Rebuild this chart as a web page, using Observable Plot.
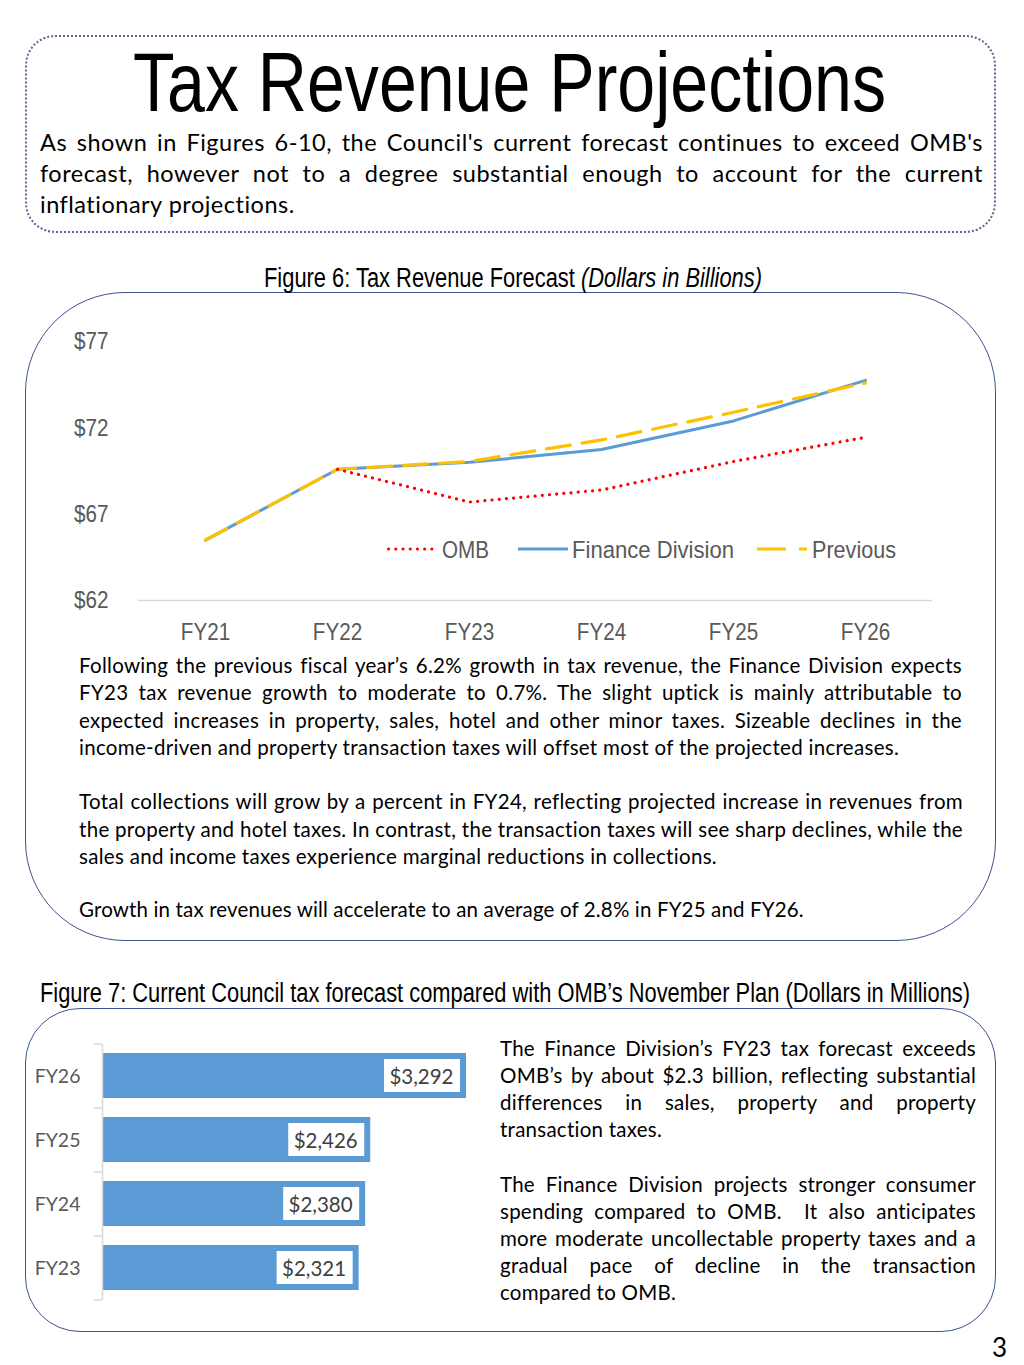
<!DOCTYPE html>
<html>
<head>
<meta charset="utf-8">
<script src="https://cdn.jsdelivr.net/npm/d3@7"></script>
<script src="https://cdn.jsdelivr.net/npm/@observablehq/plot@0.6"></script>
<style>
  html, body { margin: 0; padding: 0; background: #fff; }
  #page { position: relative; width: 1024px; height: 1365px; overflow: hidden; background: #fff; }
  .box { position: absolute; box-sizing: border-box; }
  .ln { position: absolute; white-space: pre; line-height: 1; transform-origin: 0 0; }
  .chart { position: absolute; }
  .chart svg { overflow: visible; }
</style>
</head>
<body>
<div id="page">
  <div class="box" style="left:25px;top:35px;width:971px;height:198px;border:2px dotted #5b6b90;border-radius:30px;"></div>
  <div class="box" style="left:25px;top:292px;width:971px;height:649px;border:1.6px solid #3c5192;border-radius:100px;"></div>
  <div class="box" style="left:25px;top:1008px;width:971px;height:324px;border:1.6px solid #3c5192;border-radius:55px;"></div>
</div>
<script>
// ---------- Data ----------
const years = ["FY21", "FY22", "FY23", "FY24", "FY25", "FY26"];
const ombValues = [null, 69.6, 67.7, 68.4, 70.05, 71.45];
const financeValues = [65.5, 69.6, 70.0, 70.75, 72.4, 74.75];
const previousValues = [65.5, 69.6, 70.05, 71.3, 72.9, 74.6];
const yTickValues = [62, 67, 72, 77];

const barYears = ["FY26", "FY25", "FY24", "FY23"];
const barValues = [3292, 2426, 2380, 2321];

const seriesNames = ["OMB", "Finance Division", "Previous"];
const seriesColors = ["#ff0000", "#5b9bd5", "#ffc000"];

// ---------- Text ----------
const titleText = "Tax Revenue Projections";
const introLines = [
  "As shown in Figures 6-10, the Council's current forecast continues to exceed OMB's",
  "forecast, however not to a degree substantial enough to account for the current",
  "inflationary projections."
];
const fig6Caption = ["Figure 6: Tax Revenue Forecast ", "(Dollars in Billions)"];
const para1Lines = [
  "Following the previous fiscal year\u2019s 6.2% growth in tax revenue, the Finance Division expects",
  "FY23 tax revenue growth to moderate to 0.7%. The slight uptick is mainly attributable to",
  "expected increases in property, sales, hotel and other minor taxes. Sizeable declines in the",
  "income-driven and property transaction taxes will offset most of the projected increases."
];
const para2Lines = [
  "Total collections will grow by a percent in FY24, reflecting projected increase in revenues from",
  "the property and hotel taxes. In contrast, the transaction taxes will see sharp declines, while the",
  "sales and income taxes experience marginal reductions in collections."
];
const para3Lines = [
  "Growth in tax revenues will accelerate to an average of 2.8% in FY25 and FY26."
];
const fig7Caption = "Figure 7: Current Council tax forecast compared with OMB\u2019s November Plan (Dollars in Millions)";
const rightLines1 = [
  "The Finance Division\u2019s FY23 tax forecast exceeds",
  "OMB\u2019s by about $2.3 billion, reflecting substantial",
  "differences in sales, property and property",
  "transaction taxes."
];
const rightLines2 = [
  "The Finance Division projects stronger consumer",
  "spending compared to OMB.  It also anticipates",
  "more moderate uncollectable property taxes and a",
  "gradual pace of decline in the transaction",
  "compared to OMB."
];

const NARROW = '"Liberation Sans Narrow", "Arial Narrow", "Liberation Sans", Arial, sans-serif';
const BODY = 'Lato, Carlito, Calibri, "Open Sans", sans-serif';

const page = document.getElementById("page");

// ---------- Text helper: place a line by its baseline ----------
function addLine(text, o) {
  const d = document.createElement("div");
  d.className = "ln";
  d.style.fontFamily = o.family || BODY;
  d.style.fontSize = o.size + "px";
  d.style.color = o.color || "#000";
  if (o.ls) d.style.letterSpacing = o.ls + "px";
  const parts = Array.isArray(text) ? text : [text];
  const spans = parts.map((t, i) => {
    const s = document.createElement("span");
    s.textContent = t;
    if (o.italicPart && i === 1) s.style.fontStyle = "italic";
    d.appendChild(s);
    return s;
  });
  const probe = document.createElement("span");
  probe.style.display = "inline-block";
  probe.style.width = "0px";
  probe.style.height = "0px";
  probe.style.verticalAlign = "baseline";
  d.appendChild(probe);
  page.appendChild(d);
  const baseOff = probe.offsetTop;
  const w = spans.reduce((a, s) => a + s.getBoundingClientRect().width, 0);
  d.style.top = (o.base - baseOff) + "px";
  let left = o.x;
  if (o.justify) {
    const n = (parts.join("").match(/ /g) || []).length;
    const extra = (o.w - w) / n;
    if (extra >= -1.5) {
      d.style.wordSpacing = extra + "px";
    } else {
      d.style.transform = `scaleX(${o.w / w})`;
    }
  } else if (o.fit) {
    d.style.transform = `scaleX(${o.w / w})`;
  } else if (o.maxW && w > o.maxW) {
    d.style.transform = `scaleX(${o.maxW / w})`;
  }
  if (o.center) left = o.center - w / 2;
  d.style.left = left + "px";
  return d;
}

// Title + intro
addLine(titleText, {x: 133, base: 110.5, size: 84, family: NARROW, fit: true, w: 753});
introLines.forEach((t, i) => addLine(t, {x: 40, base: 151 + 31 * i, size: 23.5, ls: 0.5, justify: i < introLines.length - 1, w: 943, maxW: 943}));

// Figure 6 caption
addLine(fig6Caption, {x: 264, base: 287, size: 27, family: NARROW, fit: true, w: 498, italicPart: true});

// Middle paragraphs
const bodyOpts = {size: 20.5, ls: 0.3};
const p1Base = [673, 700, 727.5, 755];
para1Lines.forEach((t, i) => addLine(t, {...bodyOpts, x: 79, base: p1Base[i], justify: i < para1Lines.length - 1, w: 883, maxW: 883}));
const p2Base = [809, 836.5, 864];
para2Lines.forEach((t, i) => addLine(t, {...bodyOpts, x: 79, base: p2Base[i], justify: i < para2Lines.length - 1, w: 884, maxW: 884}));
para3Lines.forEach((t, i) => addLine(t, {...bodyOpts, ls: 0.15, x: 79, base: 917, maxW: 884}));

// Figure 7 caption
addLine(fig7Caption, {x: 40, base: 1002, size: 27, family: NARROW, fit: true, w: 930});

// Right text
const rightOpts = {size: 20.5, ls: 0.25};
const r1Base = [1056, 1082.5, 1110, 1137];
rightLines1.forEach((t, i) => addLine(t, {...rightOpts, x: 500, base: r1Base[i], justify: i < rightLines1.length - 1, w: 476, maxW: 476}));
const r2Base = [1192, 1218.5, 1246, 1272.5, 1300];
rightLines2.forEach((t, i) => addLine(t, {...rightOpts, x: 500, base: r2Base[i], justify: i < rightLines2.length - 1, w: 476, maxW: 476}));

// Page number
addLine("3", {x: 992, base: 1357, size: 26});

// ---------- Figure 6: line chart ----------
const rowsFor = (vals) => years.map((y, i) => ({year: y, value: vals[i]})).filter(d => d.value != null);
const financeRows = rowsFor(financeValues);
const previousRows = rowsFor(previousValues);
const ombRows = rowsFor(ombValues);

const lineChart = Plot.plot({
  width: 920,
  height: 340,
  marginLeft: 98,
  marginRight: 28,
  marginTop: 21,
  marginBottom: 60,
  style: {fontFamily: NARROW, fontSize: "24px", color: "#595959", background: "transparent", overflow: "visible"},
  x: {type: "point", domain: years, padding: 0.5},
  y: {domain: [62, 77]},
  marks: [
    Plot.ruleY([62], {stroke: "#d9d9d9", strokeWidth: 1.5}),
    Plot.axisX({tickSize: 0, tickPadding: 22, label: null, fill: "#595959"}),
    Plot.axisY({ticks: yTickValues, tickSize: 0, tickPadding: 30, tickFormat: d => "$" + d, label: null, fill: "#595959"}),
    Plot.line(financeRows, {x: "year", y: "value", stroke: seriesColors[1], strokeWidth: 3}),
    Plot.line(previousRows, {x: "year", y: "value", stroke: seriesColors[2], strokeWidth: 3.2, strokeDasharray: "24 12"}),
    Plot.line(ombRows, {x: "year", y: "value", stroke: seriesColors[0], strokeWidth: 3.2, strokeDasharray: "0.01 7.2", strokeLinecap: "round"})
  ]
});
const w1 = document.createElement("div");
w1.className = "chart";
w1.style.left = "40px";
w1.style.top = "320px";
w1.appendChild(lineChart);
page.appendChild(w1);

// Condense axis tick labels (the original uses a narrow typeface)
lineChart.querySelectorAll('g[aria-label$="tick label"] text').forEach(t => {
  const len = t.getComputedTextLength();
  t.setAttribute("textLength", (len * 0.86).toFixed(2));
  t.setAttribute("lengthAdjust", "spacingAndGlyphs");
});

// Legend (HTML overlay)
const legendItems = [
  {name: seriesNames[0], color: seriesColors[0], x: 387, sw: 48, tx: 442, tw: 47, dash: "0.01 7.2", cap: "round"},
  {name: seriesNames[1], color: seriesColors[1], x: 518, sw: 50, tx: 572, tw: 162, dash: null, cap: "butt"},
  {name: seriesNames[2], color: seriesColors[2], x: 757, sw: 50, tx: 812, tw: 84, dash: "29 13", cap: "butt"}
];
legendItems.forEach(it => {
  const sw = document.createElementNS("http://www.w3.org/2000/svg", "svg");
  sw.setAttribute("width", it.sw + 2);
  sw.setAttribute("height", "10");
  sw.style.position = "absolute";
  sw.style.left = it.x + "px";
  sw.style.top = "544px";
  const l = document.createElementNS("http://www.w3.org/2000/svg", "line");
  l.setAttribute("x1", it.cap === "round" ? 1.6 : 0);
  l.setAttribute("x2", it.sw);
  l.setAttribute("y1", 5);
  l.setAttribute("y2", 5);
  l.setAttribute("stroke", it.color);
  l.setAttribute("stroke-width", 3.2);
  l.setAttribute("stroke-linecap", it.cap);
  if (it.dash) l.setAttribute("stroke-dasharray", it.dash);
  sw.appendChild(l);
  page.appendChild(sw);
  addLine(it.name, {x: it.tx, base: 558, size: 24.5, family: NARROW, color: "#595959", fit: true, w: it.tw});
});

// ---------- Figure 7: bar chart ----------
const barRows = barYears.map((y, i) => ({year: y, value: barValues[i]}));
const fmt = d3.format("$,");
const barChart = Plot.plot({
  width: 460,
  height: 265,
  marginLeft: 77,
  marginRight: 19,
  marginTop: 4,
  marginBottom: 5,
  style: {fontFamily: BODY, fontSize: "19.5px", color: "#595959", background: "transparent", overflow: "visible"},
  x: {domain: [0, d3.max(barValues)], axis: null},
  y: {domain: barYears, paddingInner: 0.29, paddingOuter: 0.145},
  marks: [
    Plot.barX(barRows, {x: "value", y: "year", fill: "#5b9bd5"}),
    Plot.barX(barRows, {x1: "value", x2: "value", y: "year", fill: "white", insetLeft: -82, insetRight: 6, insetTop: 6, insetBottom: 6}),
    Plot.text(barRows, {x: "value", y: "year", text: d => fmt(d.value), textAnchor: "end", dx: -13, dy: 1, fill: "#404040", fontSize: 20.5}),
    Plot.ruleX([0], {stroke: "#d9d9d9", strokeWidth: 1.5}),
    Plot.ruleY(barYears, {y: d => d, x1: 0, x2: 0, insetLeft: -8, dy: -32, stroke: "#d9d9d9", strokeWidth: 1.5}),
    Plot.ruleY(barYears.slice(-1), {y: d => d, x1: 0, x2: 0, insetLeft: -8, dy: 32, stroke: "#d9d9d9", strokeWidth: 1.5}),
    Plot.axisY({tickSize: 0, tickPadding: 22, dy: 1, label: null, fill: "#595959"})
  ]
});
const w2 = document.createElement("div");
w2.className = "chart";
w2.style.left = "25px";
w2.style.top = "1040px";
w2.appendChild(barChart);
page.appendChild(w2);
</script>
</body>
</html>
